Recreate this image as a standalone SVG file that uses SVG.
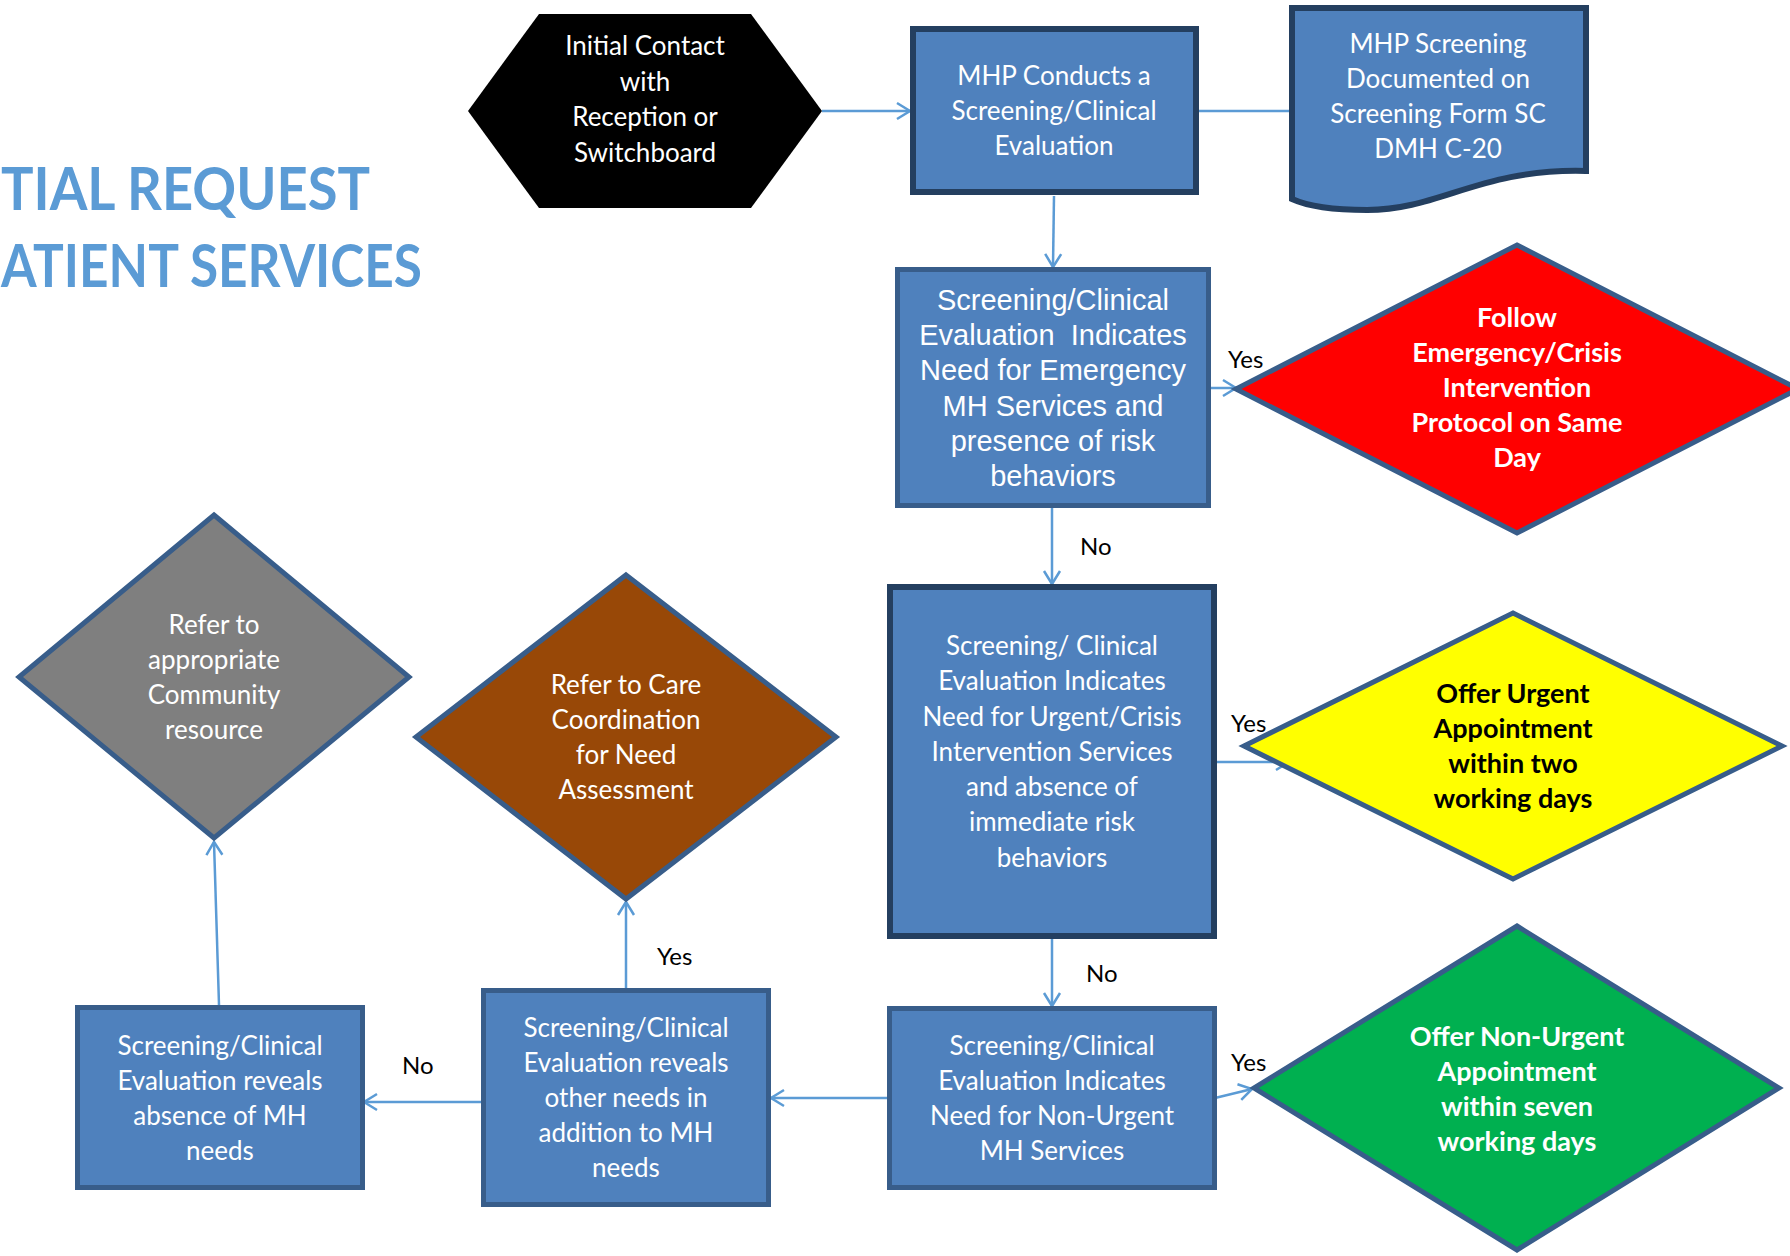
<svg xmlns="http://www.w3.org/2000/svg" width="1790" height="1256" viewBox="0 0 1790 1256">
<defs>
<style>
.t{font-family:Lato,"Open Sans","Liberation Sans",sans-serif;font-size:26px;fill:#fff;text-anchor:middle}
.a{font-family:"Liberation Sans",Arial,sans-serif;font-size:29px;fill:#fff;text-anchor:middle;white-space:pre}
.b{font-family:Lato,"Open Sans","Liberation Sans",sans-serif;font-size:27px;font-weight:bold;text-anchor:middle}
.lbl{font-family:Lato,"Open Sans","Liberation Sans",sans-serif;font-size:24px;fill:#000}
.title{font-family:Lato,"Open Sans","Liberation Sans",sans-serif;font-size:59px;font-weight:bold;fill:#5B9BD5}
.box{fill:#4F81BD;stroke:#385D8A;stroke-width:5}
.boxd{fill:#4F81BD;stroke:#243F60;stroke-width:6}
.dia{stroke:#385D8A;stroke-width:5;stroke-linejoin:miter}
.c{fill:none;stroke:#5B9BD5;stroke-width:2.5}
</style>
<marker id="arr" markerUnits="userSpaceOnUse" markerWidth="18" markerHeight="20" refX="15" refY="10" orient="auto">
<path d="M2,2 L15,10 L2,18" fill="none" stroke="#5B9BD5" stroke-width="2.5"/>
</marker>
</defs>
<rect width="1790" height="1256" fill="#fff"/>
<g id="title">
<text class="title" x="1" y="210" textLength="369" lengthAdjust="spacingAndGlyphs">TIAL REQUEST</text>
<text class="title" x="1" y="287" textLength="421" lengthAdjust="spacingAndGlyphs">ATIENT SERVICES</text>
</g>
<g id="connectors">
<line class="c" x1="822" y1="111" x2="910" y2="111" marker-end="url(#arr)"/>
<line class="c" x1="1199" y1="111" x2="1289" y2="111" stroke-width="1.8"/>
<line class="c" x1="1054" y1="196" x2="1053" y2="267" marker-end="url(#arr)"/>
<line class="c" x1="1211" y1="388" x2="1236" y2="388" marker-end="url(#arr)"/>
<line class="c" x1="1052" y1="508" x2="1052" y2="584" marker-end="url(#arr)"/>
<line class="c" x1="1217" y1="762" x2="1289" y2="762" marker-end="url(#arr)"/>
<line class="c" x1="1052" y1="939" x2="1052" y2="1006" marker-end="url(#arr)"/>
<line class="c" x1="1215" y1="1098" x2="1252" y2="1089" marker-end="url(#arr)"/>
<line class="c" x1="887" y1="1098" x2="771" y2="1098" marker-end="url(#arr)"/>
<line class="c" x1="481" y1="1102" x2="364" y2="1102" marker-end="url(#arr)"/>
<line class="c" x1="626" y1="988" x2="626" y2="902" marker-end="url(#arr)"/>
<line class="c" x1="219" y1="1005" x2="214" y2="842" marker-end="url(#arr)"/>
<text class="lbl" x="1228" y="368">Yes</text>
<text class="lbl" x="1080" y="555">No</text>
<text class="lbl" x="1231" y="732">Yes</text>
<text class="lbl" x="1086" y="982">No</text>
<text class="lbl" x="1231" y="1071">Yes</text>
<text class="lbl" x="402" y="1074">No</text>
<text class="lbl" x="657" y="965">Yes</text>
</g>
<g id="initial-contact">
<polygon points="468,111 539,14 751,14 822,111 751,208 539,208" fill="#000"/>
<text class="t" x="645" y="55">Initial Contact</text>
<text class="t" x="645" y="91">with</text>
<text class="t" x="645" y="126">Reception or</text>
<text class="t" x="645" y="162">Switchboard</text>
</g>
<g id="mhp-conducts">
<rect class="boxd" x="913" y="29" width="283" height="163"/>
<text class="t" x="1054" y="85">MHP Conducts a</text>
<text class="t" x="1054" y="120">Screening/Clinical</text>
<text class="t" x="1054" y="155">Evaluation</text>
</g>
<g id="mhp-documented">
<path d="M1292,8 H1586 V171 C1480,168 1440,210 1367,210 C1330,210 1305,205 1292,199 Z" fill="#4F81BD" stroke="#243F60" stroke-width="6"/>
<text class="t" x="1438" y="53">MHP Screening</text>
<text class="t" x="1438" y="88">Documented on</text>
<text class="t" x="1438" y="123">Screening Form SC</text>
<text class="t" x="1438" y="158">DMH C-20</text>
</g>
<g id="emergency-eval">
<rect class="box" x="897.5" y="269.5" width="311" height="236"/>
<text class="a" x="1053" y="310">Screening/Clinical</text>
<text class="a" x="1053" y="345">Evaluation  Indicates</text>
<text class="a" x="1053" y="380">Need for Emergency</text>
<text class="a" x="1053" y="416">MH Services and</text>
<text class="a" x="1053" y="451">presence of risk</text>
<text class="a" x="1053" y="486">behaviors</text>
</g>
<g id="emergency-protocol">
<polygon class="dia" points="1517,245 1798,389 1517,533 1236,389" fill="#FF0000"/>
<text class="b" x="1517" y="327" fill="#fff">Follow</text>
<text class="b" x="1517" y="362" fill="#fff">Emergency/Crisis</text>
<text class="b" x="1517" y="397" fill="#fff">Intervention</text>
<text class="b" x="1517" y="432" fill="#fff">Protocol on Same</text>
<text class="b" x="1517" y="467" fill="#fff">Day</text>
</g>
<g id="urgent-eval">
<rect class="boxd" x="890" y="587" width="324" height="349"/>
<text class="t" x="1052" y="655">Screening/ Clinical</text>
<text class="t" x="1052" y="690">Evaluation Indicates</text>
<text class="t" x="1052" y="726">Need for Urgent/Crisis</text>
<text class="t" x="1052" y="761">Intervention Services</text>
<text class="t" x="1052" y="796">and absence of</text>
<text class="t" x="1052" y="831">immediate risk</text>
<text class="t" x="1052" y="867">behaviors</text>
</g>
<g id="urgent-appointment">
<polygon class="dia" points="1513,613 1782,746 1513,879 1244,746" fill="#FFFF00"/>
<text class="b" x="1513" y="703" fill="#000">Offer Urgent</text>
<text class="b" x="1513" y="738" fill="#000">Appointment</text>
<text class="b" x="1513" y="773" fill="#000">within two</text>
<text class="b" x="1513" y="808" fill="#000">working days</text>
</g>
<g id="non-urgent-eval">
<rect class="box" x="889.5" y="1008.5" width="325" height="179"/>
<text class="t" x="1052" y="1055">Screening/Clinical</text>
<text class="t" x="1052" y="1090">Evaluation Indicates</text>
<text class="t" x="1052" y="1125">Need for Non-Urgent</text>
<text class="t" x="1052" y="1160">MH Services</text>
</g>
<g id="non-urgent-appointment">
<polygon class="dia" points="1517,926 1779,1088 1517,1250 1254,1088" fill="#00B050"/>
<text class="b" x="1517" y="1046" fill="#fff">Offer Non-Urgent</text>
<text class="b" x="1517" y="1081" fill="#fff">Appointment</text>
<text class="b" x="1517" y="1116" fill="#fff">within seven</text>
<text class="b" x="1517" y="1151" fill="#fff">working days</text>
</g>
<g id="other-needs">
<rect class="box" x="483.5" y="990.5" width="285" height="214"/>
<text class="t" x="626" y="1037">Screening/Clinical</text>
<text class="t" x="626" y="1072">Evaluation reveals</text>
<text class="t" x="626" y="1107">other needs in</text>
<text class="t" x="626" y="1142">addition to MH</text>
<text class="t" x="626" y="1177">needs</text>
</g>
<g id="absence-needs">
<rect class="box" x="77.5" y="1007.5" width="285" height="180"/>
<text class="t" x="220" y="1055">Screening/Clinical</text>
<text class="t" x="220" y="1090">Evaluation reveals</text>
<text class="t" x="220" y="1125">absence of MH</text>
<text class="t" x="220" y="1160">needs</text>
</g>
<g id="care-coordination">
<polygon class="dia" points="626,575 836,737 626,899 416,737" fill="#984807"/>
<text class="t" x="626" y="694">Refer to Care</text>
<text class="t" x="626" y="729">Coordination</text>
<text class="t" x="626" y="764">for Need</text>
<text class="t" x="626" y="799">Assessment</text>
</g>
<g id="community-resource">
<polygon class="dia" points="214,515 409,677 214,838 19,677" fill="#7F7F7F"/>
<text class="t" x="214" y="634">Refer to</text>
<text class="t" x="214" y="669">appropriate</text>
<text class="t" x="214" y="704">Community</text>
<text class="t" x="214" y="739">resource</text>
</g>
</svg>
